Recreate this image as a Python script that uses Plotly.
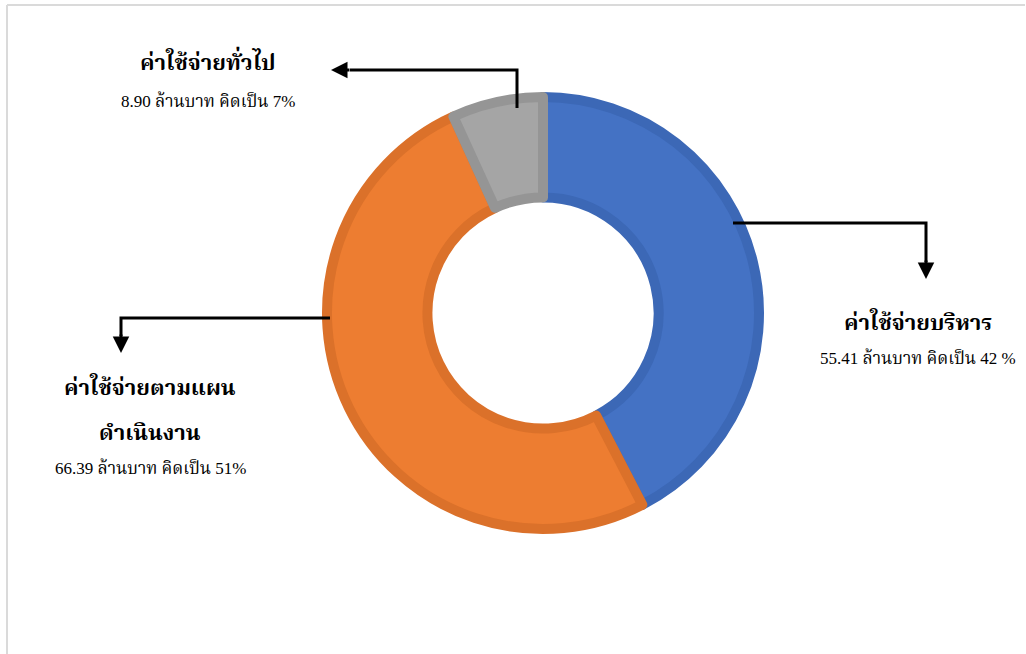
import plotly.graph_objects as go

# ---- data ----
categories = ["ค่าใช้จ่ายบริหาร", "ค่าใช้จ่ายตามแผนดำเนินงาน", "ค่าใช้จ่ายทั่วไป"]
title_lines = [["ค่าใช้จ่ายบริหาร"], ["ค่าใช้จ่ายตามแผน", "ดำเนินงาน"], ["ค่าใช้จ่ายทั่วไป"]]
values = [55.41, 66.39, 8.90]
percent_labels = ["42 %", "51%", "7%"]
fill_colors = ["#4472C4", "#ED7D31", "#A5A5A5"]
edge_colors = ["#3C68B6", "#DB712A", "#959595"]

W, H = 1026, 654


def px(x):
    return x / W


def py(y):
    return 1 - y / H


SERIF = "Liberation Serif, Noto Serif Thai, Noto Sans Thai, Tlwg Typo, serif"

fig = go.Figure()

# donut: centre (543,313), outer radius ~221 (line adds ~5px outside)
R = 216
cx, cy = 543, 313
fig.add_trace(go.Pie(
    labels=categories,
    values=values,
    sort=False,
    direction="clockwise",
    rotation=0,
    hole=0.535,
    marker=dict(colors=fill_colors, line=dict(color=edge_colors, width=10)),
    textinfo="none",
    hoverinfo="label+value+percent",
    showlegend=False,
    domain=dict(x=[px(cx - R), px(cx + R)], y=[py(cy + R), py(cy - R)]),
))

shapes = []
annotations = []

# frame lines (light gray) top and left
shapes.append(dict(type="line", xref="paper", yref="paper",
                   x0=px(7), x1=px(1025), y0=py(5), y1=py(5),
                   line=dict(color="#DADADA", width=2)))
shapes.append(dict(type="line", xref="paper", yref="paper",
                   x0=px(7), x1=px(7), y0=py(5), y1=py(654),
                   line=dict(color="#DADADA", width=2)))


def connector(points, tip, ax, ay):
    path = "M " + " L ".join(f"{px(x)},{py(y)}" for x, y in points)
    shapes.append(dict(type="path", xref="paper", yref="paper", path=path,
                       line=dict(color="black", width=3)))
    annotations.append(dict(xref="paper", yref="paper", x=px(tip[0]), y=py(tip[1]),
                            ax=ax, ay=ay, text="", showarrow=True,
                            arrowhead=2, arrowsize=1.1, arrowwidth=3, arrowcolor="black"))


# blue connector: right then down
connector([(733, 223), (926, 223), (926, 262)], (926, 279), 0, -20)
# orange connector: left then down
connector([(330, 318), (121, 318), (121, 336)], (121, 353), 0, -20)
# gray connector: up then left
connector([(517, 108), (517, 70), (350, 70)], (331, 70), 20, 0)

# labels
label_pos = [(918, [321], 358), (150, [386, 432], 468), (208, [60], 101)]
for i, (x, ys, ysub) in enumerate(label_pos):
    for line, y in zip(title_lines[i], ys):
        annotations.append(dict(xref="paper", yref="paper", x=px(x), y=py(y),
                                text=f"<b>{line}</b>", showarrow=False,
                                font=dict(family=SERIF, size=22, color="black"),
                                xanchor="center", yanchor="middle"))
    annotations.append(dict(xref="paper", yref="paper", x=px(x), y=py(ysub),
                            text=f"{values[i]:.2f} ล้านบาท คิดเป็น {percent_labels[i]}",
                            showarrow=False,
                            font=dict(family=SERIF, size=17, color="black"),
                            xanchor="center", yanchor="middle"))

fig.update_layout(
    width=W, height=H,
    margin=dict(l=0, r=0, t=0, b=0),
    paper_bgcolor="white", plot_bgcolor="white",
    shapes=shapes, annotations=annotations,
)

fig.write_html("out.html",
               config={"displayModeBar": False},
               post_script="document.body.style.margin='0';document.body.style.overflow='hidden';")
